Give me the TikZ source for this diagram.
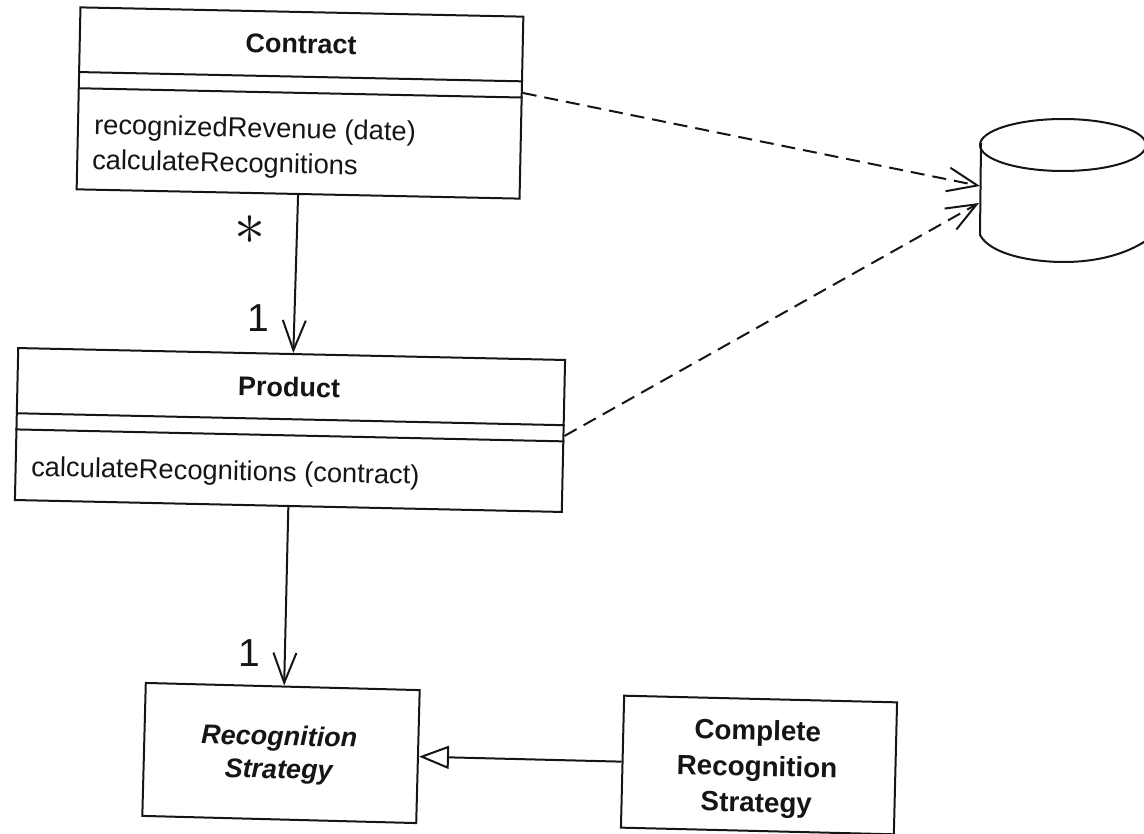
\documentclass[tikz,border=0pt]{standalone}
\usepackage{fontspec}
\setmainfont{Liberation Sans}
\usetikzlibrary{arrows.meta,calc}
\tikzset{
  classbox/.style={draw=ink,line width=2pt,inner sep=0pt,rotate=#1},
  sepline/.style={draw=ink,line width=2pt},
  txt/.style={text=ink,inner sep=0pt,font=\fontsize{27.3}{36}\selectfont,rotate=-1.2},
  ttl/.style={text=ink,inner sep=0pt,font=\fontsize{27}{36}\selectfont\bfseries,align=center,rotate=-1.2},
  assoc/.style={draw=ink,line width=2pt,-{Straight Barb[length=30pt,width=23pt,line width=2pt]}},
  dep/.style={draw=ink,line width=2pt,dash pattern=on 14pt off 8pt,-{Straight Barb[length=30pt,width=24pt,line width=2pt]}},
  gen/.style={draw=ink,line width=2pt,-{Triangle[open,length=30pt,width=23pt,line width=2pt,fill=white]}},
  mult/.style={text=ink,inner sep=0pt,font=\fontsize{39}{39}\selectfont},
  dbline/.style={draw=ink,line width=2pt},
}
\definecolor{ink}{HTML}{151515}
\begin{document}
\begin{tikzpicture}[x=1pt,y=-1pt]
\useasboundingbox (0,0) rectangle (1144,834);
\node[classbox=-1.2,minimum width=443pt,minimum height=182pt] (contract) at (300,103) {};
\draw[sepline] ($(contract.north west)!.357!(contract.south west)$) -- ($(contract.north east)!.357!(contract.south east)$);
\draw[sepline] ($(contract.north west)!.445!(contract.south west)$) -- ($(contract.north east)!.445!(contract.south east)$);
\node[ttl] (contractT) at (301,44) {Contract};
\node[txt,anchor=west] (contractM1) at (94,127) {recognizedRevenue (date)};
\node[txt,anchor=west] (contractM2) at (92,162) {calculateRecognitions};

\node[classbox=-1.25,minimum width=547pt,minimum height=152pt] (product) at (290,430) {};
\draw[sepline] ($(product.north west)!.43!(product.south west)$) -- ($(product.north east)!.43!(product.south east)$);
\draw[sepline] ($(product.north west)!.535!(product.south west)$) -- ($(product.north east)!.535!(product.south east)$);
\node[ttl] (productT) at (289,387) {Product};
\node[txt,anchor=west] (productM) at (31,469) {calculateRecognitions (contract)};

\node[classbox=-1.5,minimum width=274pt,minimum height=133pt] (strategy) at (281,753) {};
\node[ttl,font=\fontsize{27}{33}\selectfont\bfseries\itshape] (strategyT) at (279,755) {Recognition\\Strategy};

\node[classbox=-1.4,minimum width=273pt,minimum height=132pt] (complete) at (759,765) {};
\node[ttl,font=\fontsize{27.8}{36}\selectfont\bfseries] (completeT) at (757,769) {Complete\\Recognition\\Strategy};

\draw[dbline] (1063,145) ellipse [x radius=83pt,y radius=26pt];
\draw[dbline] (981,143) -- (980,235) .. controls (990,254) and (1030,262) .. (1064,262) .. controls (1095,262) and (1125,255) .. (1147,240);
\coordinate (dbA) at (980,186);
\coordinate (dbB) at (979,203);

\draw[assoc] (contract.south) -- ($(product.north west)!.503!(product.north east)$);
\draw[assoc] (product.south) -- ($(strategy.north west)!.505!(strategy.north east)$);
\draw[gen] (complete.west) -- (strategy.east);
\draw[dep] ($(contract.north east)!.42!(contract.south east)$) -- (dbA);
\draw[dep] (product.east) -- (dbB);

\node[text=ink,inner sep=0pt,scale=6.2] (star) at (249.5,230) {$\ast$};
\node[mult] (oneA) at (258,318) {1};
\node[mult] (oneB) at (249,653) {1};
\end{tikzpicture}
\end{document}
